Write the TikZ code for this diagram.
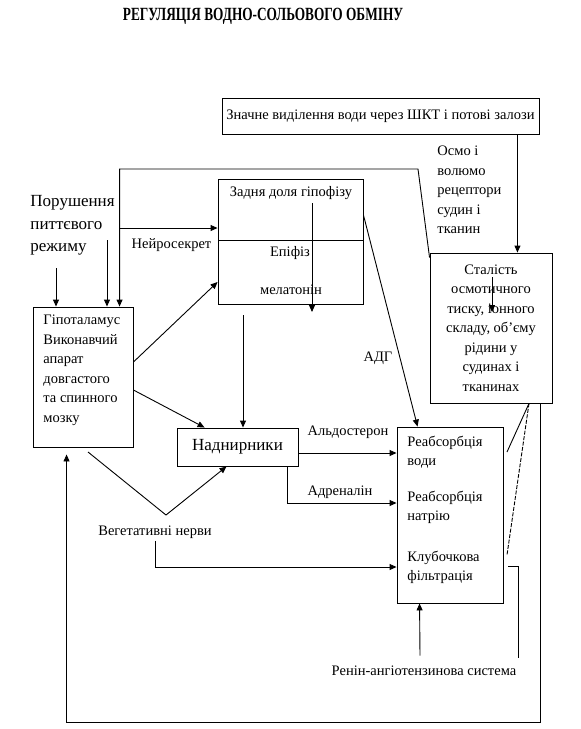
\documentclass[tikz,border=0pt]{standalone}
\usepackage{fontspec}
\setmainfont{Liberation Serif}
\usetikzlibrary{arrows.meta}

\begin{document}
\begin{tikzpicture}[
        x=1pt, y=-1pt,
        line width=0.9pt,
        >={Triangle[length=7pt,width=6pt]},
        box/.style={draw, rectangle, inner sep=0pt},
        txt/.style={inner sep=0pt, font=\fontsize{14.5}{19.5}\selectfont},
        big/.style={inner sep=0pt, font=\fontsize{17}{22.5}\selectfont},
        head/.style={inner sep=0pt, font=\bfseries\fontsize{13.3}{15}\selectfont}
        ]
        \useasboundingbox (0,0) rectangle (581,729);

        \node[head] (title) at (263,16) {\scalebox{1}[1.4]{РЕГУЛЯЦІЯ ВОДНО-СОЛЬОВОГО ОБМІНУ}};

        % boxes
        \node[box, txt, minimum width=317pt, minimum height=36pt] (shkt) at (380.5,116)
            {Значне виділення води через ШКТ і потові залози};
        \node[box, minimum width=145pt, minimum height=61pt] (zadnya-top) at (290.5,209.5) {};
        \node[box, minimum width=145pt, minimum height=64pt] (zadnya-bot) at (290.5,272) {};
        \node[box, minimum width=100pt, minimum height=140pt] (hypo) at (83,377) {};
        \node[box, txt, align=center, minimum width=122pt, minimum height=150pt] (stalist) at (491,328)
            {Сталість\\осмотичного\\тиску, іонного\\складу, об’єму\\рідини у\\судинах і\\тканинах};
        \node[box, big, minimum width=121pt, minimum height=38pt] (nadn) at (237.5,447) {Наднирники};
        \node[box, minimum width=106pt, minimum height=176pt] (reab) at (450,515) {};

        % texts
        \node[txt] (zadnya-text) at (291,193) {Задня доля гіпофізу};
        \node[txt] (epif) at (290,253) {Епіфіз};
        \node[txt] (melat) at (291,290) {мелатонін};
        \node[txt, align=left, anchor=west] (hypo-text) at (43,370.5)
            {Гіпоталамус\\Виконавчий\\апарат\\довгастого\\та спинного\\мозку};
        \node[txt, align=left, anchor=west] (reab-text) at (407,510)
            {Реабсорбція\\води\\[16pt]Реабсорбція\\натрію\\[21pt]Клубочкова\\фільтрація};
        \node[big, align=left, anchor=west] (porush) at (30,225.5)
            {Порушення\\питтєвого\\режиму};
        \node[txt, align=left, anchor=west] (osmo) at (437,190)
            {Осмо і\\волюмо\\рецептори\\судин і\\тканин};
        \node[txt] (neuro) at (171.5,245) {Нейросекрет};
        \node[txt] (adg) at (378,358) {АДГ};
        \node[txt] (aldo) at (348,432) {Альдостерон};
        \node[txt] (adren) at (340,492) {Адреналін};
        \node[txt] (veget) at (155,532) {Вегетативні нерви};
        \node[txt] (renin) at (424,671) {Ренін-ангіотензинова система};

        % free ends
        \coordinate (porush-a) at (56,268);
        \coordinate (porush-b) at (107,240);
        \coordinate (neuro-branch) at (120,228);
        \coordinate (zadnya-out) at (243,315);
        \coordinate (zadnya-in) at (312,203);
        \coordinate (stalist-in) at (492,277);
        \coordinate (shkt-out) at ([xshift=-22pt]shkt.south east);
        \coordinate (veg-start) at (88,452);
        \coordinate (veg-knee) at (166,515);
        \coordinate (klub-end) at (518,658);
        \coordinate (stalist-foot) at ([xshift=38pt]stalist.south);
        \coordinate (reab-voda) at (507,452);
        \coordinate (reab-klub) at (507,555);

        % connectors
        \draw[->] ([yshift=-5pt]stalist.north west) -- (418,169) -| ([xshift=87pt]hypo.north west);
        \draw[->] (neuro-branch) -- (neuro-branch -| zadnya-top.west);
        \draw[->] (porush-a) -- (porush-a |- hypo.north);
        \draw[->] (porush-b) -- (porush-b |- hypo.north);
        \draw[->] ([yshift=15pt]hypo.east) -- ([yshift=-10pt]zadnya-bot.west);
        \draw[->] ([yshift=-13pt]hypo.east) -- ([xshift=28pt]nadn.north west);
        \draw[->] (zadnya-out) -- (zadnya-out |- nadn.north);
        \draw[->] (zadnya-in) -- ++(0,109);
        \draw[->] (stalist-in) -- ++(0,35);
        \draw[->] ([yshift=-5.5pt]zadnya-top.east) -- ([xshift=21pt]reab.north west);
        \draw[->] (shkt-out) -- (shkt-out |- stalist.north);
        \draw[->] ([yshift=-6pt]nadn.east) -- ([yshift=62pt]reab.west);
        \draw[->] ([xshift=-11pt]nadn.south east) |- ([yshift=12pt]reab.west);
        \draw[->] (veg-start) -- (veg-knee) -- ([xshift=50pt]nadn.south west);
        \draw[->] ([yshift=-2pt]veget.south) |- ([yshift=-52pt]reab.west);
        \draw[->] ([xshift=-4pt,yshift=10pt]renin.north) -- ([xshift=23pt]reab.south west);
        \draw ([xshift=5pt,yshift=-51pt]reab.east) -| (klub-end);
        \draw (stalist-foot) -- (reab-voda);
        \draw[dash pattern=on 4pt off 1.5pt] (stalist-foot) -- (reab-klub);
        \draw[->] ([xshift=49pt]stalist.south) -- (540,722) -| ([xshift=34pt,yshift=-7pt]hypo.south west);
\end{tikzpicture}
\end{document}
